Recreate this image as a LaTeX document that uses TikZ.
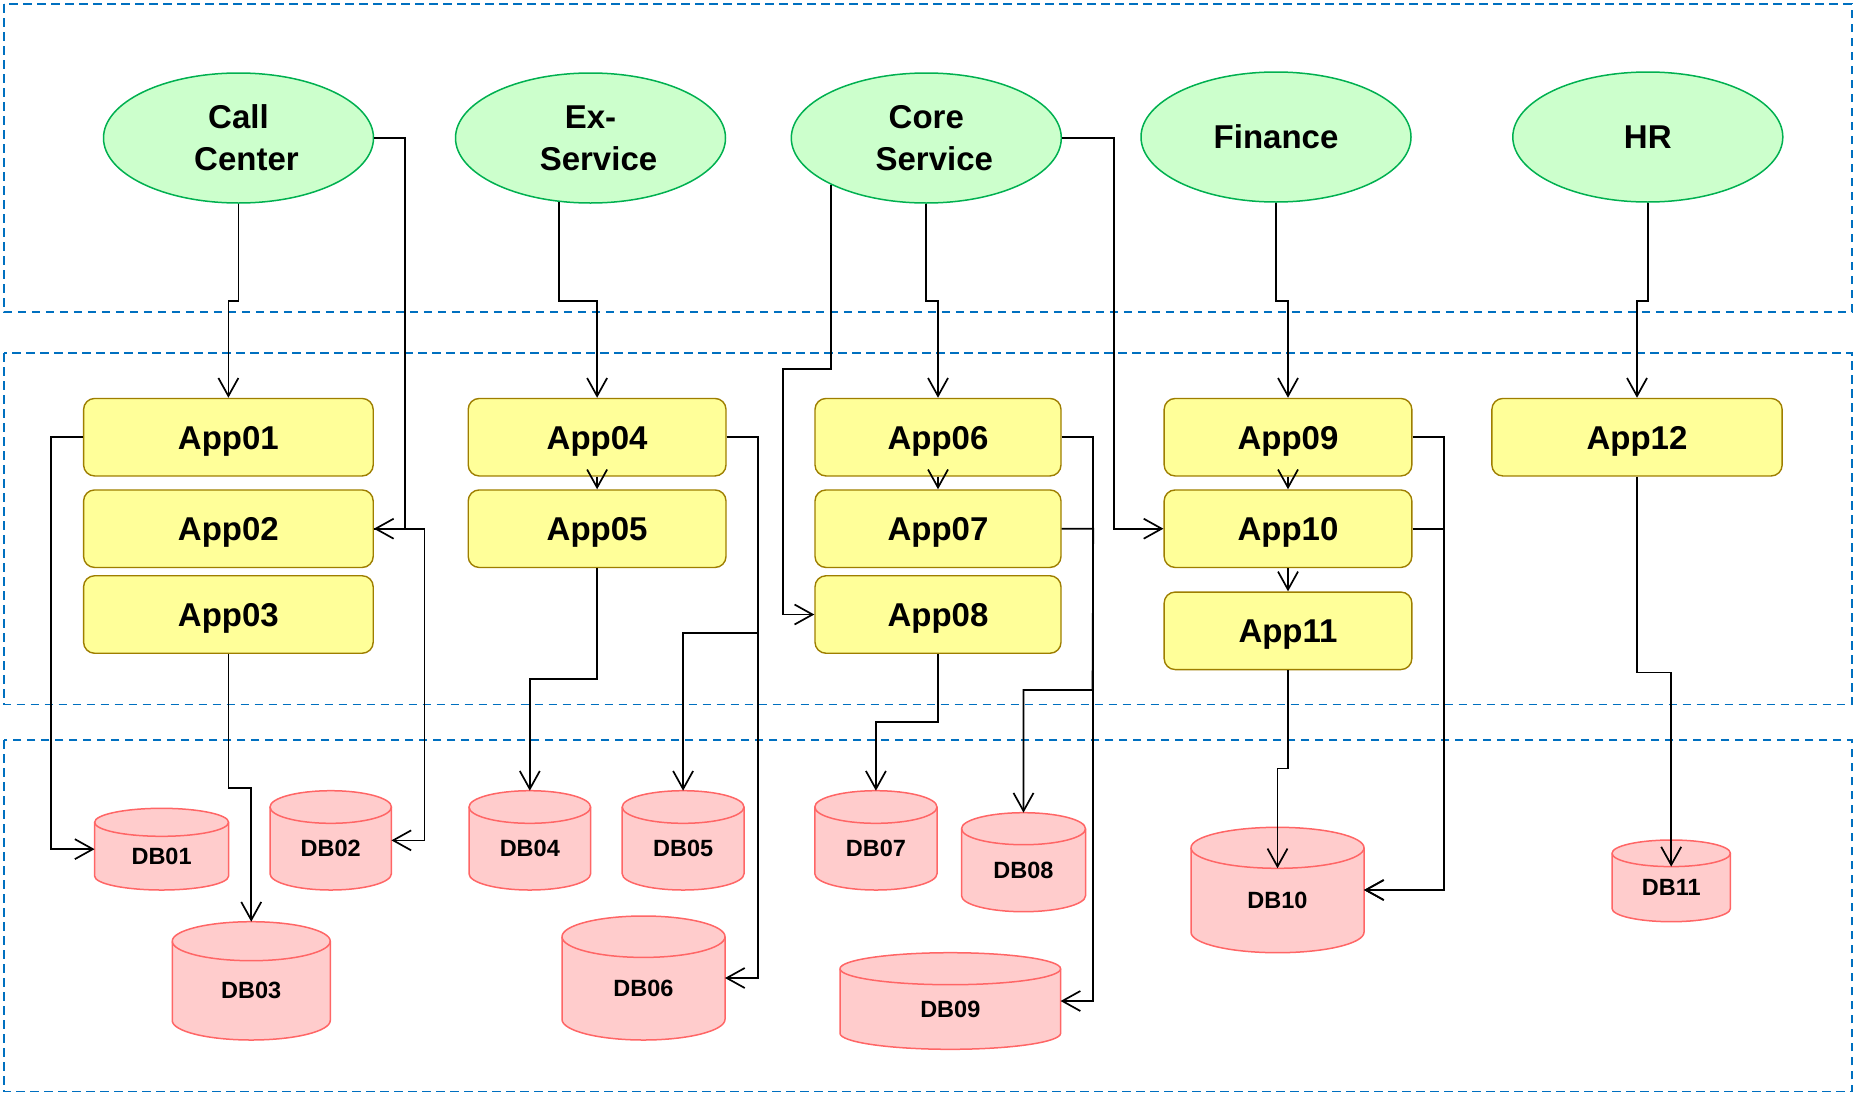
\documentclass[tikz,border=0pt]{standalone}
\usepackage{fontspec}
\setmainfont{Liberation Sans}
\usetikzlibrary{shapes.geometric,arrows.meta}
\definecolor{svcfill}{HTML}{CCFFCC}
\definecolor{svcline}{HTML}{00B050}
\definecolor{appfill}{HTML}{FFFF99}
\definecolor{appline}{HTML}{9E7E00}
\definecolor{dbfill}{HTML}{FFCCCC}
\definecolor{dbedge}{HTML}{FF6666}
\definecolor{zoneblue}{HTML}{0070C0}
\tikzset{
  zone/.style={draw=zoneblue, line width=1.5pt, dash pattern=on 8.5pt off 5.5pt},
  svc/.style={ellipse, draw=svcline, fill=svcfill, line width=1.5pt, minimum width=270pt, minimum height=130pt, inner sep=0pt, align=center, font=\fontsize{33}{41.7}\selectfont\bfseries},
  appbox/.style={rectangle, rounded corners=11pt, draw=appline, fill=appfill, line width=1.4pt, minimum height=77.5pt, inner sep=0pt, text height=23.6pt, text depth=0pt, font=\fontsize{33}{40}\selectfont\bfseries},
  dbshape/.style={draw=dbedge, fill=dbfill, line width=1.5pt},
  dbline/.style={draw=dbedge, line width=1.5pt},
  dbbox/.style={rectangle, draw=none, inner sep=0pt, outer sep=0pt},
  dbtext/.style={font=\fontsize{23.5}{28}\selectfont\bfseries, inner sep=0pt},
  conn/.style={draw=black, line width=1.7pt},
  arr/.style={conn, -{Straight Barb[length=18pt,width=20pt]}}
}
% #1 name, #2 cx, #3 top, #4 bottom, #5 rx, #6 ry, #7 label
\newcommand\dbcyl[7]{%
  \path[dbshape] (#2-#5,#3+#6) -- (#2-#5,#4-#6)
    arc[start angle=180, end angle=0, x radius=#5, y radius=#6]
    -- (#2+#5,#3+#6)
    arc[start angle=0, end angle=-180, x radius=#5, y radius=#6] -- cycle;
  \path[dbline] (#2-#5,#3+#6) arc[start angle=180, end angle=0, x radius=#5, y radius=#6];
  \node[dbbox, minimum width={2*#5}, minimum height={#4-#3}] (#1) at (#2,{(#3+#4)/2}) {};
  \coordinate (#1-cap) at (#2,{#3+2*#6});
  \node[dbtext] at (#2,{(#3+#6+#4)/2}) {#7};
}
\begin{document}
\begin{tikzpicture}[x=1pt,y=-1pt]
\useasboundingbox (0,0) rectangle (1854,1095);
% zones
\draw[zone] (3.9,4) rectangle (1851.9,312);
\draw[zone] (3.9,353) rectangle (1851.9,704.3);
\draw[zone] (3.9,740) rectangle (1851.9,1091.7);
% services
\node[svc] (cc) at (238.5,138) {Call\\\hspace*{16pt}Center};
\node[svc] (ex) at (590.5,138) {Ex-\\\hspace*{16pt}Service};
\node[svc] (cs) at (926.3,138) {Core\\\hspace*{16pt}Service};
\node[svc] (fin) at (1276,137) {Finance};
\node[svc] (hr) at (1647.8,137) {HR};
% apps
\node[appbox, minimum width=289.6pt] (app01) at (228.4,437.2) {App01};
\node[appbox, minimum width=289.6pt] (app02) at (228.4,528.7) {App02};
\node[appbox, minimum width=289.6pt] (app03) at (228.4,614.5) {App03};
\node[appbox, minimum width=257.8pt] (app04) at (597.1,437.2) {App04};
\node[appbox, minimum width=257.8pt] (app05) at (597.1,528.7) {App05};
\node[appbox, minimum width=246pt] (app06) at (938,437.2) {App06};
\node[appbox, minimum width=246pt] (app07) at (938,528.7) {App07};
\node[appbox, minimum width=246pt] (app08) at (938,614.5) {App08};
\node[appbox, minimum width=247.7pt] (app09) at (1288,437.2) {App09};
\node[appbox, minimum width=247.7pt] (app10) at (1288,528.7) {App10};
\node[appbox, minimum width=247.7pt] (app11) at (1288,630.8) {App11};
\node[appbox, minimum width=290.3pt] (app12) at (1637,437.2) {App12};
% databases
\dbcyl{db01}{161.6}{808.3}{890}{67}{14}{DB01}
\dbcyl{db02}{330.7}{790.7}{890}{60.7}{16.3}{DB02}
\dbcyl{db03}{251.25}{921.7}{1040}{79}{19.5}{DB03}
\dbcyl{db04}{529.8}{790.7}{890}{60.8}{16.3}{DB04}
\dbcyl{db05}{683.1}{790.7}{890}{60.9}{16.3}{DB05}
\dbcyl{db06}{643.5}{916}{1040}{81.5}{20.7}{DB06}
\dbcyl{db07}{875.9}{790.7}{890}{61.1}{16.3}{DB07}
\dbcyl{db08}{1023.5}{812.7}{911.7}{62}{16}{DB08}
\dbcyl{db09}{950.3}{952.7}{1049.3}{110.3}{16}{DB09}
\dbcyl{db10}{1277.5}{827.3}{952.7}{86.5}{20.5}{DB10}
\dbcyl{db11}{1671.2}{840}{921.7}{59.2}{13.3}{DB11}
% connectors
\coordinate (r1) at (0,301);
\draw[arr] (cc.south) -- (cc.south |- r1) -| (app01.north);
\draw[arr] (cc.east) -- ++(31,0) |- (app02.east);
\draw[arr] (app01.west) -- ++(-32,0) |- (db01.west);
\draw[arr] (app02.east) -- ++(50.5,0) |- (db02.east);
\draw[arr] (app03.south) -- ++(0,134) -| (db03.north);
\draw[arr] (ex.244) -- (ex.244 |- r1) -| (app04.north);
\draw[arr] (app04.south) -- (app05.north);
\draw[arr] (app05.south) -- ++(0,111) -| (db04.north);
\draw[arr] (app04.east) -- ++(31.5,0) |- (db06.east);
\draw[arr] (app04.east) -- ++(31.5,0) -- ++(0,196) -| (db05.north);
\draw[arr] (cs.south) -- (cs.south |- r1) -| (app06.north);
\draw[arr] (cs.206) -- (cs.206 |- 0,369) -- (783.2,369) |- (app08.west);
\draw[arr] (app06.south) -- (app07.north);
\draw[arr] (app06.east) -- ++(31.5,0) |- (db09.east);
\draw[arr] (app07.east) -- ++(31.5,0) -- (1092.5,690) -| (db08.north);
\draw[arr] (app08.south) -- ++(0,68) -| (db07.north);
\draw[arr] (cs.east) -- ++(52,0) |- (app10.west);
\draw[arr] (fin.south) -- (fin.south |- r1) -| (app09.north);
\draw[arr] (app09.south) -- (app10.north);
\draw[arr] (app10.south) -- (app11.north);
\draw[arr] (app09.east) -- ++(31.5,0) |- (db10.east);
\draw[arr] (app10.east) -- ++(31.5,0) |- (db10.east);
\draw[arr] (app11.south) -- ++(0,98.3) -| (db10-cap);
\draw[arr] (hr.south) -- (hr.south |- r1) -| (app12.north);
\draw[arr] (app12.south) -- ++(0,195.7) -| (db11-cap);
\end{tikzpicture}
\end{document}
